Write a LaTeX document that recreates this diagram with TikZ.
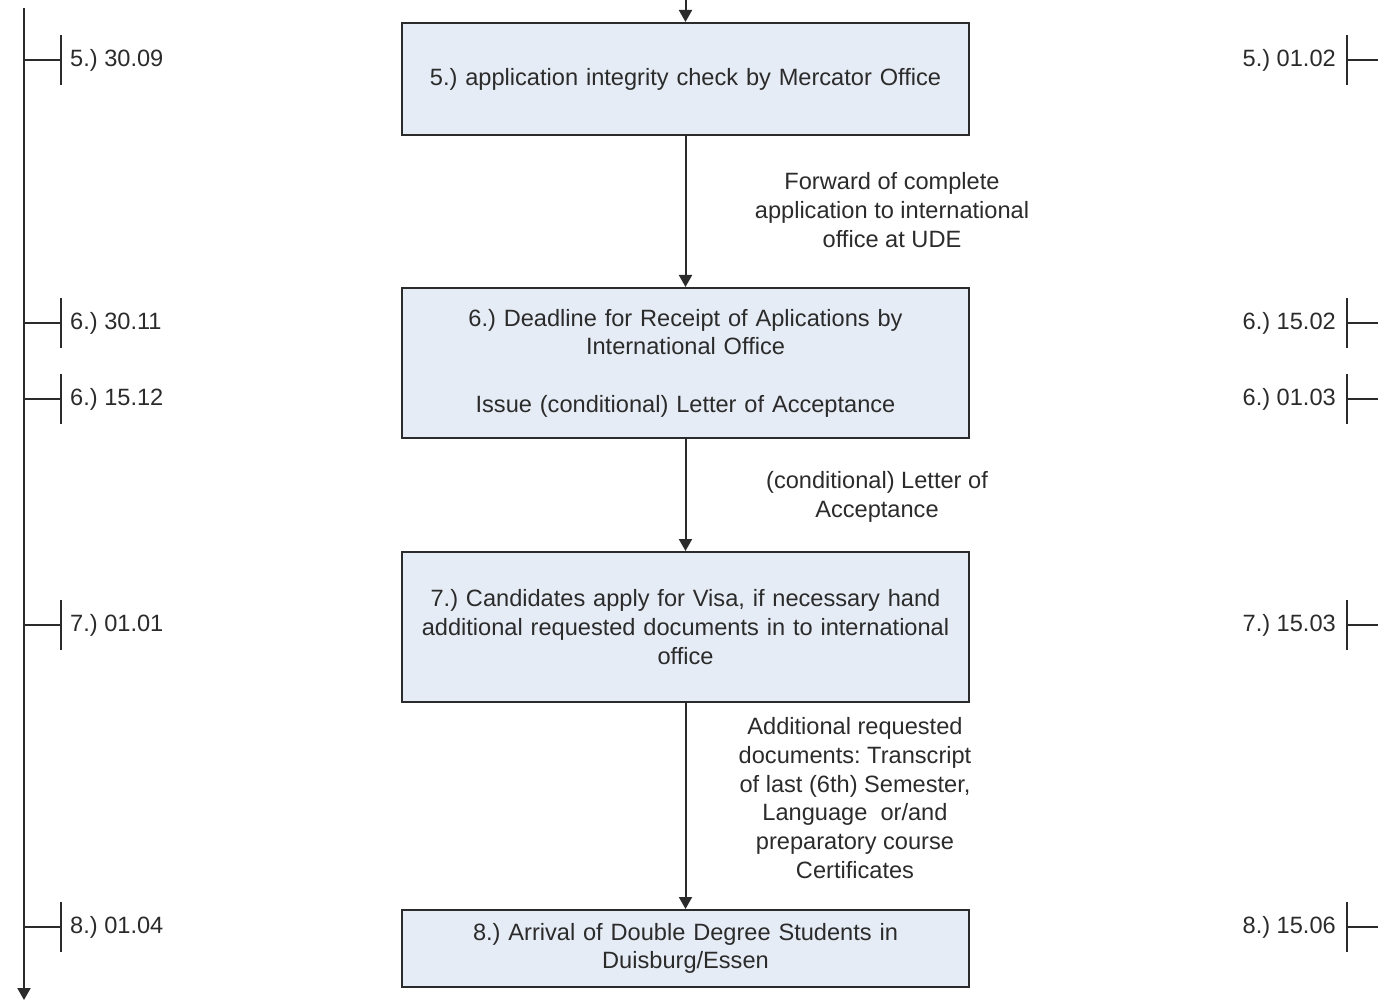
\documentclass[tikz,border=0pt]{standalone}
\usepackage{fontspec}
\setmainfont{Liberation Sans}
\usetikzlibrary{arrows.meta}
\definecolor{ink}{HTML}{2B2B2B}
\definecolor{boxfill}{HTML}{E6ECF5}
\frenchspacing
\begin{document}
\begin{tikzpicture}[x=1pt,y=-1pt,
  every node/.style={font=\fontsize{23.6}{28.7}\selectfont, text=ink},
  stepbox/.style={draw=ink, line width=2pt, fill=boxfill, minimum width=567pt,
    text width=560pt, align=center, inner sep=0pt},
  flow/.style={draw=ink, line width=2pt, -{Triangle[width=13pt,length=12pt]}},
  tick/.style={draw=ink, line width=2pt},
  datel/.style={anchor=west, inner sep=0pt},
  dater/.style={anchor=east, inner sep=0pt},
  edgelabel/.style={align=center, inner sep=0pt}]
\useasboundingbox (0,0) rectangle (1378,1008);

% process steps
\node[stepbox, minimum height=112pt] (b5) at (685.5,79) {5.) application integrity check by Mercator Office};
\node[stepbox, minimum height=150pt] (b6) at (685.5,363) {6.) Deadline for Receipt of Aplications by\\International Office\\[28.7pt]Issue (conditional) Letter of Acceptance};
\node[stepbox, minimum height=150pt] (b7) at (685.5,627) {7.) Candidates apply for Visa, if necessary hand\\additional requested documents in to international\\office};
\node[stepbox, minimum height=77pt] (b8) at (685.5,948.5) {8.) Arrival of Double Degree Students in\\Duisburg/Essen};

% connectors between steps
\coordinate (in5) at (685.5,-2);
\draw[flow] (in5) -- (b5.north);
\draw[flow] (b5.south) -- (b6.north);
\draw[flow] (b6.south) -- (b7.north);
\draw[flow] (b7.south) -- (b8.north);

% connector labels
\node[edgelabel] (l56) at (892,210) {Forward of complete\\application to international\\office at UDE};
\node[edgelabel] (l67) at (877,497) {(conditional) Letter of\\Acceptance};
\node[edgelabel] (l78) at (855,798) {Additional requested\\documents: Transcript\\of last (6th) Semester,\\Language\ \ or/and\\preparatory course\\Certificates};

% left timeline
\coordinate (lt) at (24,8);
\coordinate (lb) at (24,1000);
\draw[flow] (lt) -- (lb);
\foreach \y/\t in {60/{5.) 30.09}, 323/{6.) 30.11}, 399/{6.) 15.12}, 625/{7.) 01.01}, 927/{8.) 01.04}} {
  \draw[tick] (24,\y) -- (61,\y) (61,\y-25) -- (61,\y+25);
  \node[datel] at (70,\y) {\t};
}

% right timeline ticks
\foreach \y/\t in {60/{5.) 01.02}, 323/{6.) 15.02}, 399/{6.) 01.03}, 625/{7.) 15.03}, 927/{8.) 15.06}} {
  \draw[tick] (1347,\y) -- (1380,\y) (1347,\y-25) -- (1347,\y+25);
  \node[dater] at (1336,\y) {\t};
}
\end{tikzpicture}
\end{document}
